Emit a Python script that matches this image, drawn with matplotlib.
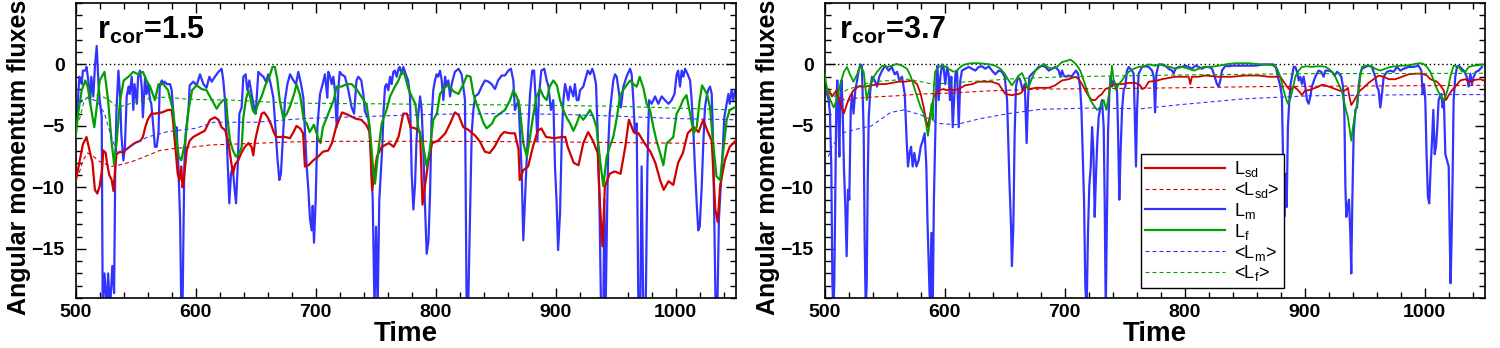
import numpy as np
import matplotlib
matplotlib.use("Agg")
import matplotlib.pyplot as plt
from matplotlib.ticker import MultipleLocator, FixedLocator
from matplotlib.lines import Line2D

plt.rcParams['font.family'] = ['Liberation Sans', 'DejaVu Sans']
plt.rcParams['mathtext.fontset'] = 'custom'
plt.rcParams['mathtext.rm'] = 'Liberation Sans'
plt.rcParams['mathtext.it'] = 'Liberation Sans:italic'
plt.rcParams['mathtext.bf'] = 'Liberation Sans:bold'

# ---- r_cor = 1.5 ----
sd_15 = np.array([
    (500, -9.5), (503, -8.0), (506, -6.5), (509, -5.9), (512, -7.2), (514, -8.0), (516, -10.2), (518, -10.5),
    (520, -9.9), (522, -8.5), (523, -7.0), (525, -7.2), (526, -8.0), (528, -9.0), (530, -9.4), (531.5, -10.3),
    (533, -8.3), (534, -7.3), (537, -7.1), (540, -7.2), (541, -7.0), (545, -6.7), (549, -6.4), (554, -6.2),
    (556, -5.9), (558, -5.1), (560, -4.5), (563, -4.0), (566, -4.0), (572, -3.9), (577, -3.7), (580, -3.7),
    (581, -4.5), (583, -6.7), (585, -8.9), (586.5, -9.4), (588, -8.3), (589, -10.0), (590, -9.5), (592.5, -7.0),
    (595, -6.2), (598, -5.9), (603.5, -5.6), (607.5, -5.4), (612, -4.5), (616, -4.3), (619, -4.5), (621.5, -5.1),
    (624.5, -5.35), (627, -6.2), (628.5, -7.2), (631, -8.9), (633, -8.1), (635.5, -7.8), (638, -7.2), (641, -6.7),
    (644, -6.4), (646.5, -6.7), (648, -7.4), (649.5, -6.2), (652, -5.1), (655, -4.0), (657, -3.9), (660, -4.3),
    (662.5, -4.8), (665, -5.5), (667, -5.9), (670, -5.9), (674.5, -5.9), (678.5, -6.0), (681.5, -5.5), (684, -5.0),
    (687, -5.2), (689.5, -5.6), (691, -8.3), (694, -8.2), (698, -7.8), (702, -7.5), (706, -7.1), (710.5, -7.0),
    (713.5, -6.4), (717, -5.1), (722, -3.9), (727, -4.1), (733, -4.4), (738, -4.5), (742, -4.9), (745, -5.5),
    (747, -10.2), (749, -8.9), (751, -7.5), (755, -6.7), (761, -6.4), (765, -6.7), (769, -5.9), (773, -4.0),
    (776, -4.0), (779, -5.1), (783, -5.2), (787, -5.5), (789, -11.4), (791, -9.9), (794, -7.8), (797, -6.4),
    (802, -6.2), (808, -5.6), (812, -4.8), (816, -3.9), (819, -4.1), (823, -5.1), (827, -5.3), (833, -5.8),
    (837, -6.3), (841, -7.1), (845, -7.2), (849, -6.7), (854, -5.8), (857, -5.5), (862, -5.6), (866, -5.6),
    (869, -6.9), (870, -9.4), (873, -8.6), (877, -8.3), (881, -6.7), (885, -5.4), (888, -5.2), (892, -5.9),
    (899, -6.0), (905, -5.9), (908, -5.9), (910, -6.7), (915, -8.0), (919, -8.2), (923, -6.4), (927, -5.5),
    (931, -6.2), (935, -7.2), (937, -11.6), (939, -14.8), (941, -9.9), (945, -8.9), (949, -8.7), (954, -8.9),
    (958, -6.7), (961, -4.5), (965, -5.5), (969, -5.6), (974, -6.4), (979, -7.1), (983, -8.0), (987, -9.4),
    (990, -10.2), (994, -9.5), (998, -9.8), (1002, -8.0), (1006, -7.2), (1010, -5.6), (1015, -5.1), (1019, -5.5),
    (1023, -4.5), (1026, -5.3), (1030, -6.2), (1033, -11.8), (1035, -12.8), (1037, -9.9), (1041, -7.8),
    (1045, -6.7), (1050, -6.2)])

f_15 = np.array([
    (500, -5.9), (502, -4.0), (505, -2.1), (508, -1.3), (510, -1.8), (513, -3.7), (515.5, -5.1), (517.5, -3.5),
    (520, -1.3), (524, -0.6), (527, -2.9), (530, -6.4), (532, -8.1), (534, -6.4), (537, -2.9), (540, -1.3),
    (544, -1.0), (548, -0.6), (552, -0.8), (556, -0.6), (559, -1.3), (562, -1.8), (566, -2.9), (569, -1.6),
    (573, -1.6), (577, -2.1), (581, -3.7), (584, -6.2), (586, -7.5), (588, -7.8), (591, -6.4), (594, -3.7),
    (597, -2.1), (600.8, -1.7), (605, -2.0), (609, -2.1), (613, -2.8), (617.5, -3.6), (620, -3.2), (623, -2.9),
    (625.3, -2.8), (626.6, -4.5), (628.6, -6.2), (631, -7.0), (633.6, -7.5), (636.4, -7.2), (638.3, -6.7),
    (639.7, -4.3), (642, -2.8), (644, -2.1), (645.3, -2.6), (647.5, -3.7), (649.4, -4.0), (652, -3.2),
    (655, -2.6), (658, -1.7), (661.4, -1.0), (664, -0.2), (666, -0.2), (668, -1.2), (670, -2.9), (673, -4.4),
    (676, -4.0), (679, -3.3), (682, -2.4), (684, -1.6), (687, -2.5), (690, -4.5), (692.5, -4.8), (695, -5.5),
    (698.5, -4.9), (702, -6.0), (704, -6.4), (706, -5.1), (710.5, -4.0), (715, -2.9), (717.5, -1.8),
    (721.5, -1.8), (726, -1.6), (730, -1.6), (734, -2.0), (738, -2.6), (742.5, -3.3), (745, -5.1), (748, -8.6),
    (749.4, -9.7), (752, -7.2), (755, -4.8), (759, -3.7), (762, -2.6), (766, -1.8), (769, -1.3), (771.6, -0.6),
    (774, -0.8), (777, -1.9), (780, -2.6), (783, -3.2), (785.5, -5.1), (789.7, -6.7), (792.5, -8.3), (795, -7.0),
    (798, -4.5), (801, -4.0), (803.6, -2.4), (808, -1.8), (810.5, -1.7), (815, -2.2), (819, -2.4), (823, -1.6),
    (826, -0.9), (829, -1.0), (831.4, -2.4), (834, -3.2), (837, -4.0), (840, -4.8), (842.5, -5.2), (847, -4.8),
    (849.4, -4.3), (853.6, -4.0), (857.7, -3.7), (862, -2.9), (864.7, -2.1), (867.5, -2.6), (870, -3.5),
    (873, -6.4), (876, -7.5), (878.6, -5.9), (881, -4.3), (884, -2.6), (887, -2.0), (889.7, -2.6), (892.5, -2.9),
    (895, -1.8), (898, -1.3), (901, -1.7), (903.6, -2.9), (906.4, -3.7), (909, -4.3), (912, -4.8), (914.7, -5.4),
    (917.5, -4.8), (920, -4.1), (923, -4.5), (926, -4.1), (928.6, -3.7), (931.4, -4.3), (934, -5.1),
    (937, -7.8), (939.7, -9.9), (942.5, -7.5), (945, -6.7), (948, -5.9), (951, -4.3), (953.6, -2.6), (956, -2.1),
    (959, -1.7), (962, -1.3), (964.7, -1.6), (967.5, -1.8), (970, -1.0), (973, -1.9), (975.8, -3.2),
    (978.6, -3.7), (981.4, -5.1), (984, -6.2), (987, -7.2), (989.7, -8.2), (992.5, -6.4), (995, -6.2),
    (998, -5.9), (1000.8, -4.0), (1003.6, -3.5), (1006, -2.9), (1009, -2.5), (1012, -4.0), (1015, -5.6),
    (1017.5, -5.1), (1020, -2.9), (1022, -1.7), (1026, -2.4), (1028.6, -3.5), (1031, -6.2), (1034, -9.1),
    (1037, -9.4), (1040, -6.7), (1042.5, -4.5), (1045, -3.7), (1049, -3.5)])

m_15 = np.array([
    (500, -5.6), (501.7, -3.2), (503, -1.0), (505, -1.6), (506, -0.5), (508, -0.5), (509, -0.2), (510.5, -1.3),
    (512, -3.2), (513, -1.0), (514.7, -2.6), (516, -0.2), (517.5, 1.5), (519, -1.6), (520, -2.9), (521.7, -4.3),
    (522.5, -20), (524, -17.0), (526, -20), (527, -17.0), (528.6, -20), (530.5, -16.4), (532, -18.6),
    (533, -8.1), (534, -3.7), (535.6, -0.5), (537, -2.6), (538, -5.6), (539.7, -7.8), (541, -6.7), (542.5, -2.6),
    (544, -1.8), (545, -2.4), (546.7, -1.0), (548, -3.7), (549, -1.6), (551, -3.2), (552, -1.0), (553.6, -0.5),
    (555, -1.8), (556, -4.3), (557.8, -1.0), (559, -2.4), (560.5, -1.6), (562, -2.9), (563, -3.2), (564.7, -5.1),
    (566, -6.7), (567.5, -6.7), (569, -5.6), (570, -1.8), (571.7, -1.3), (573, -1.6), (574, -1.4), (576, -1.6),
    (578.6, -1.6), (580, -2.1), (581, -3.5), (583, -6.2), (584, -5.1), (585.6, -8.3), (587, -12.6), (588, -20),
    (589, -20), (590, -12.4), (590.5, -8.3), (591.7, -5.6), (594, -3.7),
    (595, -1.7), (598, -1.4), (600.8, -1.7), (603.6, -0.8), (606.4, -1.6), (609, -1.9), (611.4, -1.0),
    (613.3, -1.4), (616, -1.0), (619, -0.6), (621.6, -0.35), (623, -1.3), (624.4, -2.9), (625.8, -5.9),
    (627.2, -9.4), (628, -11.3), (629.4, -8.9), (630.8, -8.3), (632.2, -9.9), (633.6, -11.3), (635, -8.3),
    (636.4, -4.0), (638.3, -3.5), (639.7, -1.0), (641.6, -0.8), (643, -2.1), (644.7, -1.3), (646.6, -2.4),
    (648.6, -3.5), (650, -4.0), (652.2, -0.6), (654, -0.8), (656.4, -1.0), (658.6, -1.4), (660.5, -0.8),
    (662.5, -1.6), (664.7, -2.7), (666.4, -5.1), (668, -7.5), (669.7, -9.4), (671, -8.9), (672.5, -6.2),
    (674.4, -2.9), (676.4, -1.6), (678.6, -0.8), (681.4, -1.3), (683.6, -1.6), (685.5, -0.6), (687.8, -1.6),
    (689.7, -2.7), (691, -5.4), (692.5, -8.3), (693.9, -10.2), (695.2, -12.5), (696.6, -13.5), (697.5, -11.5),
    (698.6, -14.5), (700, -11.0), (701.4, -5.1), (703.6, -2.4), (705.8, -1.6), (707.7, -0.8), (709.7, -2.7),
    (710.5, -0.6), (712, -1.0), (713.3, -1.6), (714.7, -1.0), (716, -2.1), (717.5, -5.1), (719, -1.8),
    (720, -0.6), (721.6, -0.8), (724.4, -1.0), (727, -2.0), (730, -3.5), (732, -4.0), (734, -1.3), (735.5, -1.0),
    (738, -1.3), (739.7, -2.4), (741, -3.8), (744, -4.5), (746, -7.0), (747.5, -11.0), (749, -20),
    (750.3, -13.2), (751.6, -20), (753, -11.0), (754.4, -8.6), (755.5, -6.7), (756.6, -3.7), (757.8, -1.8),
    (759, -1.6), (760.5, -2.1), (762, -1.0), (763.3, -1.6), (764.7, -0.6), (766, -0.5), (767.5, -1.0),
    (769, -0.35), (770, -0.2), (771.6, -0.8), (773, -0.2), (774.4, -0.6), (775.8, -1.0), (777, -1.3),
    (778.6, -2.6), (780, -8.9), (781.4, -11.8), (782.8, -9.7), (784, -6.2), (785.5, -4.0), (787, -2.6),
    (788.3, -3.7), (789.7, -7.0), (791, -11.3), (792.5, -15.4), (794, -14.3), (795.3, -10.5), (796.6, -4.3),
    (798, -2.1), (799.4, -1.3), (800.8, -0.8), (802, -1.0), (803.6, -0.5), (805, -1.3), (806.4, -2.9),
    (807.8, -1.0), (809, -1.8), (810.5, -1.3), (812, -2.6), (813.3, -1.6), (816, -0.6), (819, -0.35),
    (821.6, -0.8), (823, -1.8), (824.4, -2.9), (825.8, -20), (827, -20), (828.6, -12.1), (830, -5.6),
    (831.4, -3.7), (832.8, -2.6), (835.5, -2.4), (838.3, -1.8), (841, -1.3), (844, -1.4), (846.6, -1.6),
    (849.4, -2.0), (852, -1.3), (855, -0.9), (857.7, -0.9), (860.5, -0.5), (862.7, -0.35), (864.7, -1.3),
    (866, -3.7), (869, -2.9), (870, -5.1), (871.7, -8.9), (873, -14.3), (874.4, -11.0), (875.8, -7.8),
    (878.6, -2.4), (880.5, -0.5), (882, -0.5), (883.3, -2.9), (884.7, -6.2), (886, -2.6), (888, -0.5),
    (890.5, -0.35), (892.5, -1.3), (894, -1.8), (896, -3.7), (898, -2.9), (899.4, -8.3), (900.8, -11.3),
    (902, -15.1), (903.6, -12.1), (905, -6.2), (906.4, -2.9), (907.8, -1.6), (909, -2.1), (910.5, -2.9),
    (912, -1.8), (914.7, -2.6), (916, -1.6), (917.5, -2.9), (919, -2.9), (920.3, -2.1), (923, -1.8),
    (924.4, -1.3), (926.7, -0.5), (928.6, -0.8), (930.5, -0.35), (932, -0.8), (933.6, -1.6), (935, -5.6),
    (936.4, -11.0), (937.8, -20), (939.7, -20), (940.5, -11.0), (941.6, -20), (943, -11.0), (943.9, -6.4),
    (945, -4.0), (946.6, -2.6), (948, -1.3), (949.4, -0.8), (950.8, -1.0), (952, -1.8), (954.4, -3.5),
    (956.4, -1.8), (959, -1.0), (962, -0.35), (963.3, -0.8), (964.7, -2.9), (966, -5.6), (967.5, -4.8),
    (968.9, -20), (970.5, -20), (971.6, -8.3), (973, -20), (975, -20), (976.4, -8.3), (977.8, -2.9),
    (980, -3.2), (982.8, -2.6), (985.5, -3.2), (988.3, -2.6), (991, -2.9), (994, -3.2), (996.6, -2.9),
    (999, -2.4), (1000.8, -0.8), (1002, -0.5), (1003.6, -1.8), (1005, -0.5), (1006.4, -1.0), (1007.8, -0.35),
    (1010, -0.8), (1012, -1.3), (1013.3, -2.9), (1014.7, -5.4), (1016, -8.3), (1017.5, -11.3), (1018.8, -13.5),
    (1020, -13.2), (1021.7, -9.9), (1023, -6.4), (1024.4, -3.5), (1025.8, -2.6), (1027, -2.1), (1028.6, -1.8),
    (1030, -2.4), (1031, -5.6), (1032, -11.6), (1033.3, -20), (1034.7, -20), (1036, -12.6), (1037.5, -9.9),
    (1038.9, -7.5), (1040.5, -4.3), (1042.5, -3.2), (1043.9, -2.4), (1045, -3.2), (1046.6, -2.1), (1048, -2.9),
    (1049.4, -2.1)])

sd_mean_15 = np.array([
    (503, -8.8), (506, -7.8), (510, -7.2), (515, -7.5), (520, -7.9), (525, -8.1), (530, -8.3), (535, -8.2),
    (540, -8.1), (550, -7.8), (560, -7.4), (570, -7.0), (585, -6.8), (595, -6.75), (612, -6.55), (640, -6.45),
    (680, -6.3), (720, -6.25), (800, -6.25), (900, -6.3), (1000, -6.4), (1050, -6.45)])
m_mean_15 = np.array([
    (503, -3.0), (510, -2.7), (518, -3.0), (524, -4.0), (530, -6.0), (535, -7.2), (540, -7.0), (550, -6.4),
    (560, -5.9), (575, -5.5), (590, -5.3), (600, -5.2), (615, -4.7), (650, -4.7), (690, -4.4), (720, -4.3),
    (800, -4.05), (850, -4.0), (900, -4.05), (950, -4.2), (1000, -4.4), (1050, -4.5)])
f_mean_15 = np.array([
    (503, -4.5), (507, -3.0), (512, -2.4), (520, -2.5), (528, -2.9), (535, -3.5), (545, -3.2), (560, -2.8),
    (575, -2.65), (590, -2.8), (600, -2.85), (630, -2.9), (680, -3.15), (750, -3.2), (800, -3.25), (870, -3.3),
    (950, -3.4), (1000, -3.55), (1050, -3.7)])

# ---- r_cor = 3.7 ----
sd_37 = np.array([
    (500, -2.1), (503, -2.0), (506, -2.6), (510, -2.1), (513, -3.2), (516, -4.0), (518.6, -3.2), (521, -2.6),
    (524, -2.1), (528, -1.8), (534, -1.8), (539, -1.7), (545, -1.6), (550.5, -1.6), (556, -1.5), (561.7, -1.4),
    (567, -1.4), (573, -1.3), (577, -1.6), (580, -2.4), (582.5, -3.5), (584.4, -4.5), (586, -5.1), (588, -4.0),
    (591, -2.6), (595, -2.1), (599, -2.0), (602, -2.1), (604.7, -2.0), (607.5, -2.1), (611.7, -2.0), (617, -1.7),
    (623, -1.6), (628, -1.4), (634, -1.4), (639, -1.4), (645, -1.6), (650.5, -2.4), (656, -2.5), (661.7, -2.4),
    (664, -2.3), (667, -1.8), (671, -2.0), (675.5, -1.9), (681, -1.9), (686.7, -1.9), (692, -1.7), (697.8, -1.3),
    (703.3, -1.2), (708.9, -1.0), (711.7, -1.2), (714.4, -1.6), (717.2, -2.1), (720, -2.6), (722.8, -2.9),
    (725.5, -2.9), (728.3, -2.6), (731, -2.4), (733.9, -2.0), (736.7, -1.9), (739.4, -1.7), (743.6, -1.6),
    (747.8, -1.6), (753.3, -1.5), (758.9, -1.5), (763, -1.7), (764.4, -2.0), (767, -1.9), (770, -1.4),
    (775.5, -1.35), (781, -1.2), (786.6, -1.1), (792, -1.0), (797.8, -1.0), (803.3, -1.0), (804.7, -1.6),
    (806, -1.0), (811.7, -1.0), (817, -0.9), (822.8, -0.95), (828.3, -1.0), (839.4, -1.0), (850.5, -0.9),
    (861.7, -0.9), (870, -1.0), (875.5, -1.0), (879.7, -1.0), (882.5, -1.4), (885.2, -1.8), (888, -2.1),
    (890.8, -1.8), (893.6, -2.0), (896.3, -2.3), (897.7, -2.5), (900.5, -2.1), (903.3, -2.1), (906, -2.0),
    (911.6, -1.8), (914.4, -1.65), (917.2, -1.7), (920, -1.8), (922.7, -1.9), (925.5, -2.0), (928.3, -2.1),
    (931, -2.2), (933.9, -2.1), (936, -1.9), (937.2, -2.6), (938.8, -3.3), (940.8, -3.0), (943.6, -2.5),
    (946.3, -2.1), (949, -1.9), (953.3, -1.5), (957.5, -1.2), (961.6, -0.9), (965.8, -1.0), (970, -1.2),
    (975.5, -1.2), (981, -1.0), (986.6, -0.8), (992.2, -0.75), (997.7, -0.75), (1001.9, -0.9), (1004.7, -1.2),
    (1007.5, -1.3), (1010.2, -1.4), (1013, -1.7), (1015.8, -2.1), (1017.7, -2.9), (1020, -2.5), (1022.7, -2.1),
    (1025.5, -1.8), (1029.7, -1.3), (1033.8, -1.2), (1038, -1.4), (1042, -1.25), (1046.4, -1.2), (1049, -1.3)])

f_37 = np.array([
    (500, -0.75), (502, -2.1), (504.7, -2.9), (507.5, -3.5), (510, -2.9), (513, -1.6), (516, -0.6),
    (518.6, -0.2), (521, -0.8), (524, -1.4), (527, -0.8), (529.7, -0.1), (532.5, -0.6), (535, -2.9),
    (538, -1.6), (541, -1.0), (543.6, -0.6), (548, -0.1), (552, -0.2), (556, -0.1), (560, 0.05), (564.4, -0.1),
    (568.6, -0.35), (571.4, -0.9), (574, -1.7), (577, -2.6), (580, -3.5), (582.5, -4.0), (584.4, -4.8),
    (586, -5.8), (587.5, -4.8), (589, -3.2), (590, -4.5), (591, -1.8), (592, -0.6), (595, -0.2), (597.8, -0.1),
    (600.5, -0.15), (603, -0.35), (607.5, -0.6), (610, -0.5), (614.4, -0.1), (618.6, 0.05), (622.8, 0.1),
    (628, 0.1), (634, 0.05), (638, 0.0), (642, -0.1), (646.4, -0.35), (650, -0.75), (653.3, -1.3), (656, -1.7),
    (659, -1.3), (661.7, -0.9), (664.4, -0.7), (667, -1.3), (669.4, -2.0), (672, -1.3), (675.5, -0.5),
    (679.7, -0.2), (682.5, 0.05), (685.3, -0.2), (689.4, -0.35), (693.6, -0.2), (697.8, 0.2), (702, 0.3),
    (704.7, 0.4), (707.5, 0.2), (710.3, -0.1), (713, -0.5), (715.8, -1.3), (718.6, -2.1), (721.4, -2.9),
    (724, -3.3), (727, -3.7), (729.7, -3.5), (732.5, -2.9), (734.7, -3.7), (736.7, -2.5), (738, -1.6),
    (739.4, -0.1), (740.8, -1.3), (742.8, -2.1), (745, -1.6), (747.8, -1.3), (750.5, -0.9), (753.3, -0.6),
    (757.5, -0.35), (761.6, -0.2), (765.8, -0.15), (770, 0.0), (775.5, -0.1), (779.7, 0.0), (783.9, -0.15),
    (788, -0.2), (792.2, -0.35), (797.8, -0.2), (803.3, -0.35), (807.5, -0.5), (811.7, -0.35), (815.8, -0.2),
    (820, -0.2), (825.5, -0.15), (831, -0.05), (836.7, 0.05), (842.2, 0.1), (853.3, 0.1), (858.9, 0.05),
    (865.8, 0.0), (870, 0.0), (874, -0.1), (877, -0.35), (879.7, -1.0), (881.6, -1.8), (883.8, -2.6),
    (886, -3.2), (888, -2.8), (890, -2.0), (892.2, -1.0), (895, -0.5), (897.7, -0.2), (901.9, -0.15),
    (906, -0.2), (910.2, -0.15), (914.4, -0.15), (917.2, -0.2), (920, -0.35), (922.7, -0.6), (925.5, -1.0),
    (928.3, -1.6), (931, -2.2), (933.9, -3.5), (936, -4.3), (937.5, -5.3), (938.8, -6.2), (940.2, -5.1),
    (942.2, -4.0), (943.6, -3.2), (945, -2.1), (946.3, -1.0), (947.7, -0.2), (950.5, -0.1), (954.7, -0.1),
    (958.8, -0.35), (963, -0.5), (967.2, -0.35), (971.3, -0.2), (975.5, -0.15), (979.7, -0.1), (983.8, -0.1),
    (988, -0.05), (992, 0.05), (996.3, 0.1), (999, 0.05), (1001.9, -0.2), (1004.7, -0.6), (1007.5, -1.3),
    (1010.2, -2.0), (1013, -2.5), (1015.8, -2.9), (1017.7, -2.5), (1020, -1.7), (1021.3, -1.0), (1024.1, -0.1),
    (1028.3, -0.2), (1031, -0.55), (1033.8, -0.6), (1036.6, -0.2), (1040.8, -0.1), (1045, -0.05), (1049, 0.0)])

m_37 = np.array([
    (500, -1.3), (501, -1.6), (502, -2.4), (503.3, -2.9), (504.4, -4.0), (505.5, -8.3), (506.4, -17.8),
    (507.2, -20), (508, -17.8), (509, -8.6), (509.7, -2.9), (510.5, -1.3), (511.4, -4.3), (512.2, -7.5),
    (513, -2.9), (514, -1.3), (515, -3.7), (516, -8.3), (517.2, -11.6), (518.3, -15.6), (519.4, -10.2),
    (520.5, -11.0), (521.7, -3.7), (522.8, -2.4), (524, -4.0), (525.5, -2.1), (527, -1.3), (528.3, -0.5),
    (529.7, 0.0), (531, -0.1), (532.5, -5.6), (533.3, -14.3), (534.2, -20), (535, -17.8), (535.8, -9.9),
    (536.7, -4.3), (538, -2.1), (539.4, -1.0), (541.7, -1.3), (543.6, -1.8), (545.5, -1.0), (547.8, -0.5),
    (550.5, -0.1), (553.3, -0.5), (556, -0.2), (558.3, -0.8), (560.3, -0.6), (562.2, -1.3), (564.4, -1.0),
    (566.7, -2.4), (568.3, -6.2), (569.4, -8.3), (570.8, -7.2), (572, -6.7), (573.3, -8.3), (574.7, -7.2),
    (576.4, -8.3), (578.3, -7.8), (580, -6.7), (581.7, -6.2), (583.3, -5.6), (584.7, -8.3), (585.6, -12.6),
    (586.7, -16.4), (587.8, -20), (588.9, -13.7), (590, -20), (591, -11.0), (592.2, -5.6), (593.3, -0.5),
    (594, -0.1), (595, -2.9), (596.4, -1.0), (597.8, 0.0), (599, -0.2), (600.5, -1.6), (602, -0.2),
    (603.3, -0.8), (604.4, -2.9), (605.5, -1.0), (606.7, -5.1), (607.8, -2.9), (608.9, -0.8), (610.3, -0.5),
    (611.7, -5.1), (613, -1.3), (614.4, -0.5), (617.2, -0.35), (620, -0.2), (622.8, -0.35), (625.5, -0.5),
    (628.3, -0.2), (631, -0.15), (633.9, -0.35), (636.7, -0.15), (639.4, -0.5), (642.2, -0.8), (645, -0.5),
    (647.8, -0.6), (650, -1.0), (652, -2.9), (653.9, -9.4), (655.3, -13.2), (656, -16.4), (657.2, -13.2),
    (658.3, -5.6), (659.4, -1.8), (661, -1.0), (663, -1.3), (665, -2.1), (666.7, -1.6), (668.3, -6.4),
    (669.4, -2.9), (670.5, -1.0), (672.8, -0.75), (675.5, -0.5), (678.3, -0.2),
    (681, -0.1), (683.9, -0.2), (686.7, -0.5), (689.4, -0.35), (692.2, -0.2), (695, -0.5), (696.4, -1.0),
    (697.8, -0.5), (699.2, -0.9), (701.1, -1.0), (703.3, -0.9), (705.5, -1.0), (707.5, -0.75), (709.4, -0.5),
    (711.1, -0.75), (712.8, -1.8), (713.9, -3.5), (715, -7.3), (716.1, -11.0), (717.2, -18.1), (718.3, -20),
    (719.4, -13.7), (720.5, -9.9), (721.7, -8.3), (722.8, -5.1), (723.9, -7.0), (725, -12.4), (726.1, -8.9),
    (727.2, -6.2), (728.3, -4.3), (729.7, -3.5), (731.1, -2.9), (732.5, -5.1), (733.3, -11.0), (734.2, -20),
    (735, -13.7), (736.1, -5.6), (737.2, -2.4), (738.3, -1.0), (739.4, -1.8), (740.8, -1.3), (742.2, -1.6),
    (743.6, -2.1), (744.4, -5.1), (745.5, -11.0), (746.6, -7.0), (747.8, -3.7), (749.1, -2.1), (750.5, -1.8),
    (751.9, -0.5), (753.3, -0.2), (754.7, -0.35), (756.1, -0.5), (757.5, -0.75), (758.3, -3.7), (759.4, -8.3),
    (760.3, -3.7), (761.6, -0.75), (763, -0.5), (764.4, -0.2), (767.2, -0.15), (770, -0.2), (772.8, -0.5),
    (774.2, -1.0), (775.3, -3.9), (776.4, -0.75), (778.3, 0.0), (781.1, 0.0), (783.9, -0.1), (786.6, -0.35),
    (789.4, -0.5), (790.8, -0.75), (792.2, -0.35), (795, -0.2), (797.8, -0.2), (800.5, -0.1), (803.3, -0.2),
    (806.1, -0.35), (808.9, -0.1), (811.7, -0.2), (814.4, -0.35), (817.2, -0.2), (820, -0.2), (822.8, -0.35),
    (825, -1.0), (826.9, -1.6), (828.3, -1.8), (829.7, -1.3), (831.1, -0.5), (833.9, -0.1), (836.7, -0.15),
    (839.4, -0.1), (847.8, -0.1), (858.9, -0.1), (865.8, 0.0),
    (870, 0.0), (874, 0.0), (876, -0.2), (877.7, -1.0), (879.7, -1.8), (881, -2.6), (882.2, -8.9), (883, -12.4),
    (883.8, -8.9), (885, -11.6), (886, -5.1), (887.2, -2.9), (888.3, -1.6), (889.4, -1.0), (890.8, -0.2),
    (892.2, -0.2), (893.6, -0.6), (895, -1.3), (896.3, -1.0), (897.7, -1.6), (899.1, -1.0), (900.5, -1.8),
    (901.9, -2.9), (903.3, -3.2), (904.7, -2.6), (906, -1.8), (908.8, -1.0), (911.6, -0.5), (913.8, -0.6),
    (915.8, -1.0), (917.2, -0.5), (920, -0.5), (922.7, -0.6), (925, -0.9), (926.9, -0.6), (928.8, -0.75),
    (930.5, -1.0), (931.9, -1.8), (933, -3.7), (933.9, -9.9), (934.7, -12.4), (935.8, -11.6), (936.9, -11.0),
    (938, -13.7), (938.8, -17.0), (939.7, -11.0), (940.8, -5.6), (942.2, -3.7), (943.6, -3.5), (945, -1.8),
    (946.3, -0.75), (947.7, -0.35), (950.5, -0.2), (953.3, -0.1), (956, -0.2), (958.8, -1.0), (960.2, -1.8),
    (961.6, -2.1), (963, -3.5), (964.4, -2.4), (965.8, -1.0), (968.6, -0.6), (971.3, -0.5), (974.1, -0.6),
    (976.9, -0.2), (979.7, -0.5), (982.5, -0.35), (986.6, -0.2), (990.8, -0.2), (994.9, -0.1), (997.2, -0.5),
    (998.3, -2.4), (999.4, -1.6), (1000.5, -2.9), (1001.6, -7.5), (1002.7, -10.8), (1003.8, -11.3),
    (1005, -8.3), (1006.1, -6.2), (1007.2, -3.7), (1008.3, -7.3), (1009.4, -6.7), (1010.5, -5.1),
    (1011.6, -2.9), (1012.7, -2.6), (1013.8, -2.4), (1014.9, -3.5), (1016, -2.9), (1017.2, -7.3),
    (1018.6, -7.8), (1020, -8.3), (1020.8, -13.7), (1021.6, -17.8), (1022.5, -13.7), (1023.3, -8.9),
    (1024.1, -2.9), (1025.5, -1.0), (1026.9, -0.2), (1028.3, -0.1), (1031, -0.35), (1033.3, -0.6), (1035, -1.0),
    (1036.6, -1.8), (1038, -0.75), (1039.4, -1.6), (1040.8, -1.0), (1042.7, -0.6), (1045, -0.5), (1047.7, -0.2)])

sd_mean_37 = np.array([
    (503, -2.3), (510, -2.5), (518, -3.0), (525, -2.75), (540, -2.65), (560, -2.55), (581, -2.4), (600, -2.35),
    (637, -2.15), (681, -2.0), (750, -1.95), (792, -1.9), (865, -1.8), (950, -1.75), (1050, -1.7)])
m_mean_37 = np.array([
    (503, -7.5), (506, -6.7), (514, -5.6), (525, -5.3), (539, -5.0), (555, -3.9), (566, -3.7), (580, -4.1),
    (595, -4.8), (609, -4.9), (630, -4.4), (653, -4.0), (680, -3.65), (720, -3.55), (764, -3.6), (793, -3.3),
    (849, -2.8), (904, -2.55), (950, -2.5), (1000, -2.45), (1050, -2.45)])
f_mean_37 = np.array([
    (503, -2.0), (508, -2.6), (520, -2.0), (540, -1.4), (570, -1.2), (590, -1.6), (620, -1.4), (660, -1.15),
    (700, -1.0), (800, -0.85), (900, -0.75), (1050, -0.72)])

panels = [
    ('1.5', sd_15, sd_mean_15, m_15, f_15, m_mean_15, f_mean_15, 0.032),
    ('3.7', sd_37, sd_mean_37, m_37, f_37, m_mean_37, f_mean_37, 0.021),
]

RED = '#d00000'
BLUE = '#3333ff'
GREEN = '#00a000'
DASH = (3.6, 2.7)

fig = plt.figure(figsize=(15, 3.48), dpi=100)
lefts = [75.7 / 1500, 824.7 / 1500]

for i, (rc, sd, sd_m, lm, lf, lm_m, lf_m, tx) in enumerate(panels):
    ax = fig.add_axes([lefts[i], 50 / 348, 660 / 1500, 295 / 348])
    lw = 1.6 if i == 0 else 1.3

    ax.plot([500, 1050], [0, 0], color='black', lw=1.0, ls=(0, (1, 2)), zorder=1)
    ax.plot(lm[:, 0], lm[:, 1], color=BLUE, lw=1.6, zorder=2)
    ax.plot(sd[:, 0], sd[:, 1], color=RED, lw=lw, zorder=3)
    ax.plot(lf[:, 0], lf[:, 1], color=GREEN, lw=lw, zorder=4)
    ax.plot(sd_m[:, 0], sd_m[:, 1], color=RED, lw=0.8, dashes=DASH, zorder=5)
    ax.plot(lm_m[:, 0], lm_m[:, 1], color=BLUE, lw=0.8, dashes=DASH, zorder=5)
    ax.plot(lf_m[:, 0], lf_m[:, 1], color=GREEN, lw=0.8, dashes=DASH, zorder=5)

    ax.set_xlim(500, 1050)
    ax.set_ylim(-19, 5)
    ax.xaxis.set_major_locator(MultipleLocator(100))
    ax.xaxis.set_minor_locator(MultipleLocator(20))
    ax.yaxis.set_major_locator(FixedLocator([-15, -10, -5, 0]))
    ax.yaxis.set_minor_locator(MultipleLocator(1))
    ax.tick_params(which='both', direction='in', top=True, right=True, width=1)
    ax.tick_params(which='major', length=7)
    ax.tick_params(which='minor', length=4)
    ax.tick_params(axis='x', pad=4)
    ax.tick_params(axis='y', pad=8)
    for lab in ax.get_xticklabels() + ax.get_yticklabels():
        lab.set_fontsize(14)
        lab.set_fontweight('bold')
    for s in ax.spines.values():
        s.set_linewidth(1.2)

    ax.set_xlabel('Time', fontsize=20, fontweight='bold')
    ax.xaxis.set_label_coords(0.5, -0.0795)
    ax.set_ylabel('Angular momentum fluxes', fontsize=18, fontweight='bold')
    ax.yaxis.set_label_coords(-0.068, 0.478)

    ax.text(tx, 0.877, r'r$_{\mathbf{cor}}$=' + rc, transform=ax.transAxes,
            fontsize=22, fontweight='bold', va='baseline', ha='left')

    if i == 1:
        handles = [
            Line2D([], [], color=RED, lw=1.6),
            Line2D([], [], color=RED, lw=0.8, dashes=DASH),
            Line2D([], [], color=BLUE, lw=1.6),
            Line2D([], [], color=GREEN, lw=1.6),
            Line2D([], [], color=BLUE, lw=0.8, dashes=DASH),
            Line2D([], [], color=GREEN, lw=0.8, dashes=DASH),
        ]
        labels = [r'L$_{\rm sd}$', r'<L$_{\rm sd}$>', r'L$_{\rm m}$', r'L$_{\rm f}$',
                  r'<L$_{\rm m}$>', r'<L$_{\rm f}$>']
        leg = ax.legend(handles, labels, loc='lower left', bbox_to_anchor=(0.479, 0.034),
                        borderaxespad=0, fontsize=13, handlelength=4.4, handletextpad=0.5,
                        labelspacing=0.05, borderpad=0.25, fancybox=False, framealpha=1,
                        edgecolor='black')
        leg.get_frame().set_linewidth(1.0)

fig.savefig('out.png', dpi=100)
